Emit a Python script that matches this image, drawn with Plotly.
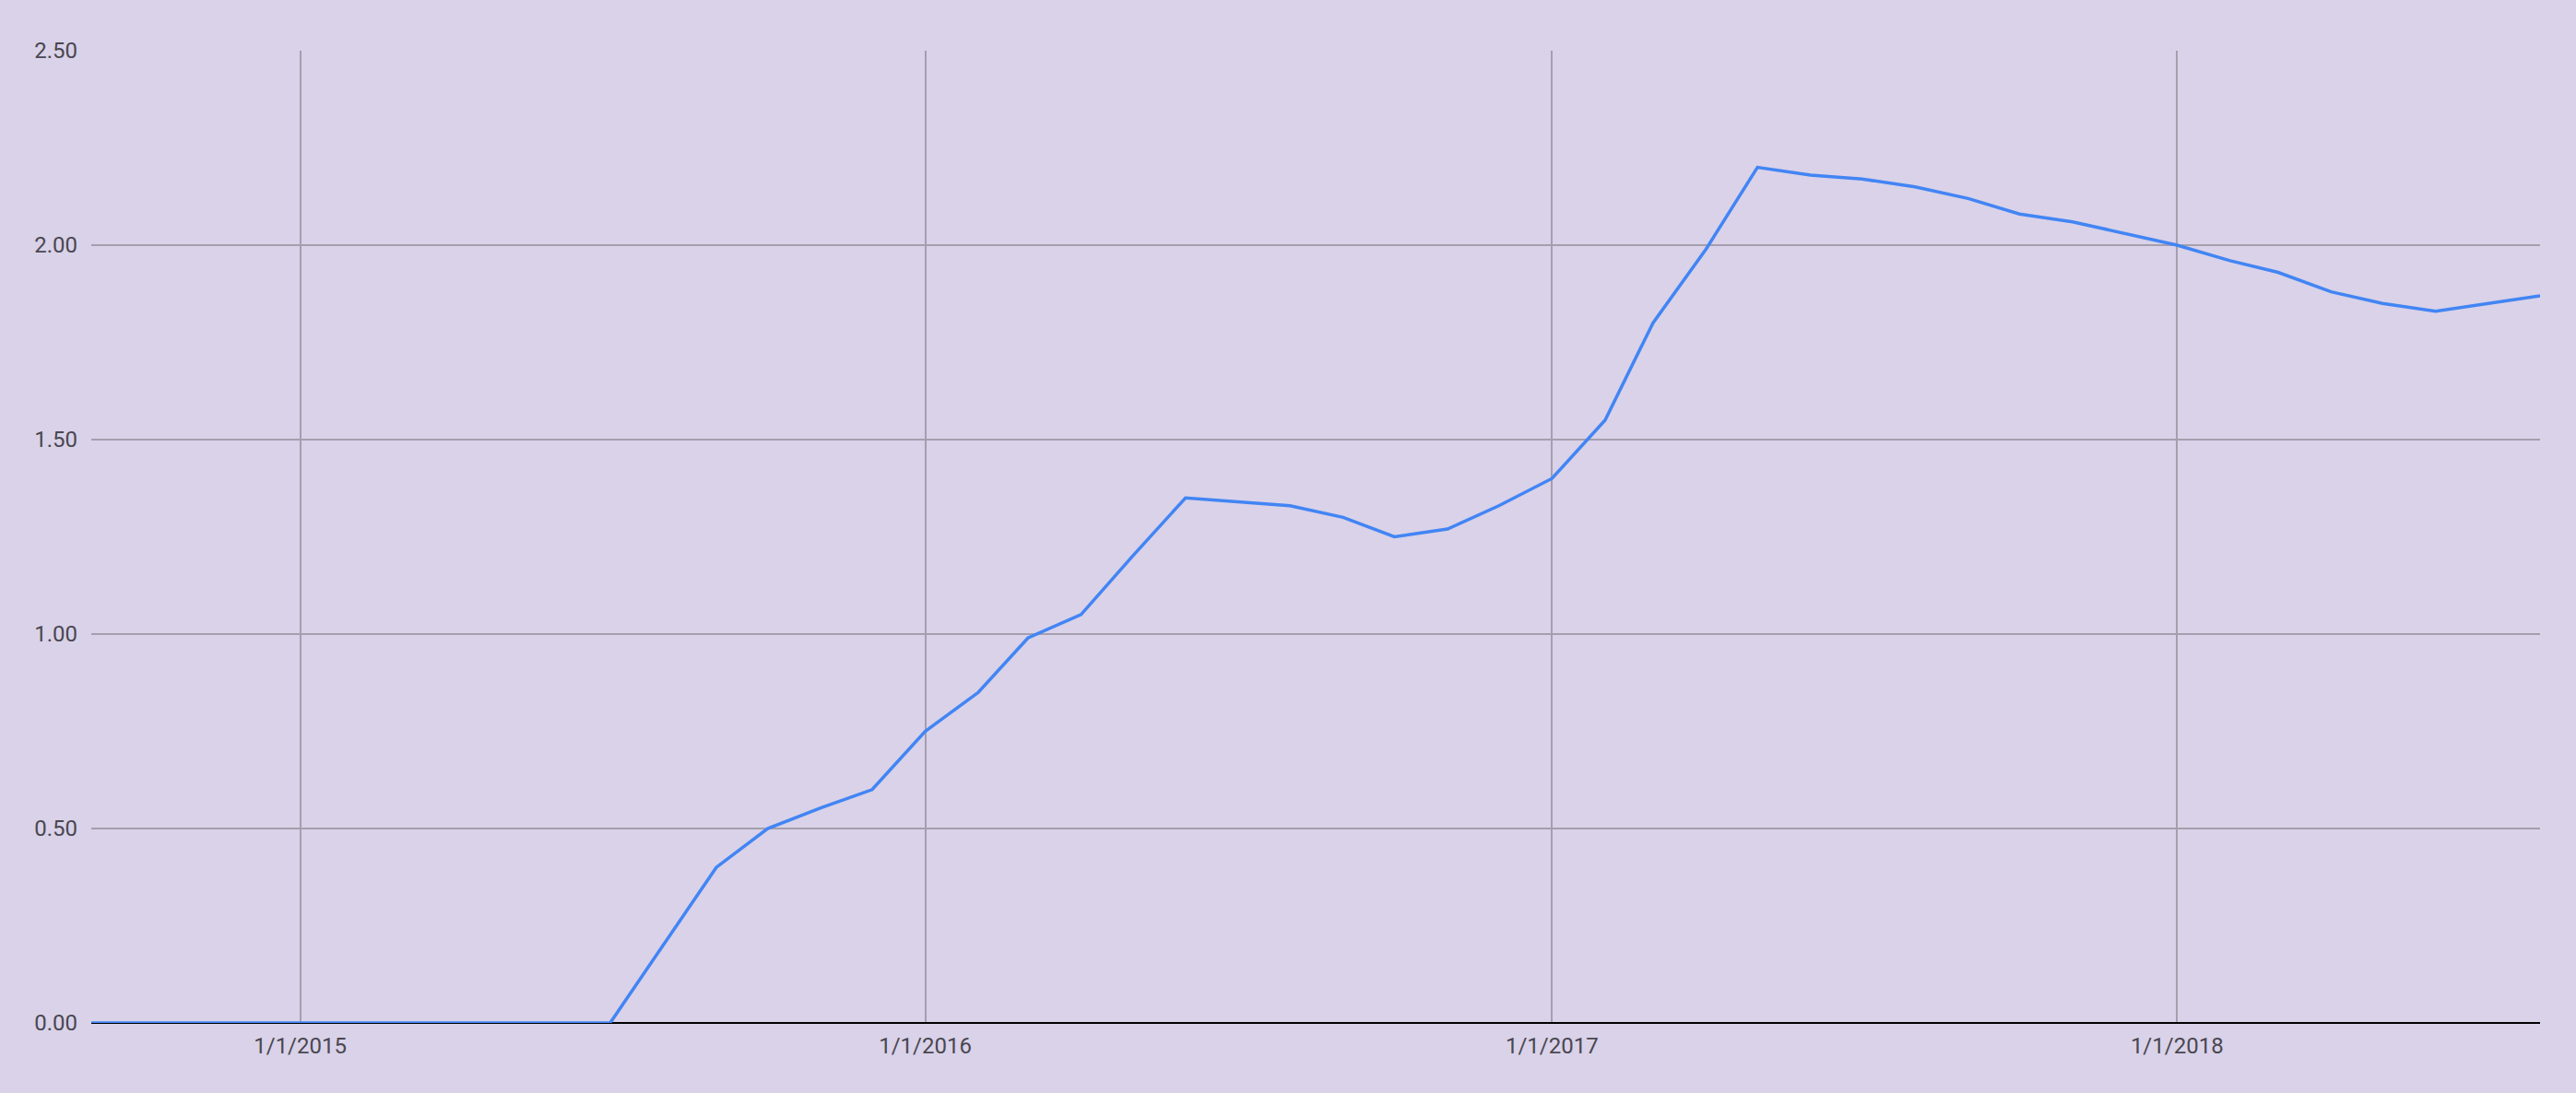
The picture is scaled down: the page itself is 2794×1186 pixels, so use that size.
import plotly.graph_objects as go

months = [
    "2014-09-01", "2014-10-01", "2014-11-01", "2014-12-01",
    "2015-01-01", "2015-02-01", "2015-03-01", "2015-04-01", "2015-05-01", "2015-06-01",
    "2015-07-01", "2015-08-01", "2015-09-01", "2015-10-01", "2015-11-01", "2015-12-01",
    "2016-01-01", "2016-02-01", "2016-03-01", "2016-04-01", "2016-05-01", "2016-06-01",
    "2016-07-01", "2016-08-01", "2016-09-01", "2016-10-01", "2016-11-01", "2016-12-01",
    "2017-01-01", "2017-02-01", "2017-03-01", "2017-04-01", "2017-05-01", "2017-06-01",
    "2017-07-01", "2017-08-01", "2017-09-01", "2017-10-01", "2017-11-01", "2017-12-01",
    "2018-01-01", "2018-02-01", "2018-03-01", "2018-04-01", "2018-05-01", "2018-06-01",
    "2018-07-01", "2018-08-01",
]
values = [
    0, 0, 0, 0,
    0, 0, 0, 0, 0, 0,
    0, 0.20, 0.40, 0.50, 0.553, 0.60,
    0.75, 0.85, 0.99, 1.05, 1.20, 1.35,
    1.34, 1.33, 1.30, 1.25, 1.27, 1.33,
    1.40, 1.55, 1.80, 1.99, 2.20, 2.18,
    2.17, 2.15, 2.12, 2.08, 2.06, 2.03,
    2.00, 1.96, 1.93, 1.88, 1.85, 1.83,
    1.85, 1.87,
]
y_ticks = [0, 0.5, 1.0, 1.5, 2.0, 2.5]
x_ticks = ["2015-01-01", "2016-01-01", "2017-01-01", "2018-01-01"]
x_tick_labels = ["1/1/2015", "1/1/2016", "1/1/2017", "1/1/2018"]

BG = "#d9d2e9"
GRID = "#a59fad"
TEXT = "#4a4750"

fig = go.Figure()
fig.add_trace(go.Scatter(
    x=months, y=values, mode="lines",
    line=dict(color="#4285f4", width=3.5),
    showlegend=False, hoverinfo="x+y",
))

fig.update_layout(
    width=2794, height=1186,
    margin=dict(l=99, r=39, t=55, b=76, pad=0),
    paper_bgcolor=BG, plot_bgcolor=BG,
    font=dict(family="Roboto", size=24, color=TEXT),
    showlegend=False,
)
fig.update_xaxes(
    type="date",
    range=["2014-09-01", "2018-08-01"],
    tickvals=x_ticks, ticktext=x_tick_labels,
    showgrid=True, gridcolor=GRID, gridwidth=2,
    zeroline=False, showline=False,
    ticks="", ticklabelstandoff=8,
)
fig.update_yaxes(
    range=[0, 2.5],
    tickvals=y_ticks, tickformat=".2f",
    showgrid=True, gridcolor=GRID, gridwidth=2,
    zeroline=True, zerolinecolor="#000000", zerolinewidth=2,
    showline=False, ticks="", ticklabelstandoff=14,
)

fig.write_html("out.html", config={"displayModeBar": False},
               post_script="document.body.style.margin='0';")
